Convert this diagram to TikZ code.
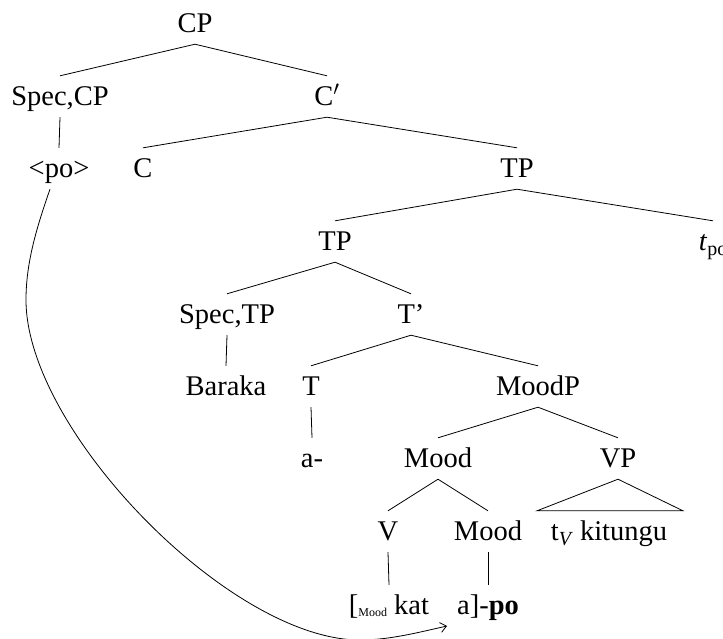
\documentclass[tikz,border=0pt]{standalone}
\usepackage{fontspec}
\setmainfont{Liberation Serif}
\usetikzlibrary{calc,arrows.meta}
\newcommand{\subtxt}[1]{\raisebox{-5pt}{\fontsize{20}{20}\selectfont #1}}
\begin{document}
\begin{tikzpicture}[x=1pt,y=-1pt,
  lbl/.style={anchor=base, font=\fontsize{28.5}{34}\selectfont, text height=20pt, text depth=3pt, inner xsep=0pt, inner ysep=9pt},
  br/.style={line width=0.8pt}]
\useasboundingbox (0,0) rectangle (723,638);
\node[lbl] (cp) at (195,32) {CP};
\node[lbl] (scp) at (60,105) {Spec,CP};
\node[lbl] (cbar) at (327,105) {C$'$};
\node[lbl] (po) at (59,177) {<po>};
\node[lbl] (c) at (143,177) {C};
\node[lbl] (tp) at (517,177) {TP};
\node[lbl] (tp2) at (335,250) {TP};
\node[lbl] (tpo) at (713,250) {\textit{t}\subtxt{po}};
\node[lbl] (stp) at (227,323) {Spec,TP};
\node[lbl] (tbar) at (411,323) {T’};
\node[lbl] (bar) at (226,395) {Baraka};
\node[lbl] (t) at (311,395) {T};
\node[lbl] (moodp) at (538,395) {MoodP};
\node[lbl] (a) at (312,467) {a-};
\node[lbl] (mood) at (438,467) {Mood};
\node[lbl] (vp) at (618,467) {VP};
\node[lbl] (v) at (388,540) {V};
\node[lbl] (mood2) at (488,540) {Mood};
\node[lbl] (kit) at (609,540) {t\subtxt{\textit{V}} kitungu};
\node[lbl] (kat) at (389,614) {[\raisebox{-2pt}{\fontsize{12}{12}\selectfont Mood} kat};
\node[lbl] (apo) at (488,614) {a]-\textbf{po}};
\draw[br] (cp.south) -- (scp.north);
\draw[br] (cp.south) -- (cbar.north);
\draw[br] (scp.south) -- (po.north);
\draw[br] (cbar.south) -- (c.north);
\draw[br] (cbar.south) -- (tp.north);
\draw[br] (tp.south) -- (tp2.north);
\draw[br] (tp.south) -- (tpo.north);
\draw[br] (tp2.south) -- (stp.north);
\draw[br] (tp2.south) -- (tbar.north);
\draw[br] (stp.south) -- (bar.north);
\draw[br] (tbar.south) -- (t.north);
\draw[br] (tbar.south) -- (moodp.north);
\draw[br] (t.south) -- (a.north);
\draw[br] (moodp.south) -- (mood.north);
\draw[br] (moodp.south) -- (vp.north);
\draw[br] (mood.south) -- (v.north);
\draw[br] (mood.south) -- (mood2.north);
\draw[br] (v.south) -- (kat.north);
\draw[br] (mood2.south) -- (apo.north);
\draw[br] (vp.south) -- ($(kit.north)+(-72,0)$) -- ($(kit.north)+(74,0)$) -- cycle;
\coordinate (cs) at ($(po.south)+(-9,0)$);
\coordinate (ce) at (447,626);
\draw[br,-{Straight Barb[length=6pt,width=10pt]}] (cs) .. controls (35,232) and (26,265) .. (26,300) .. controls (26,430) and (230,640) .. (360,640) .. controls (390,640) and (420,632) .. (ce);
\end{tikzpicture}
\end{document}
